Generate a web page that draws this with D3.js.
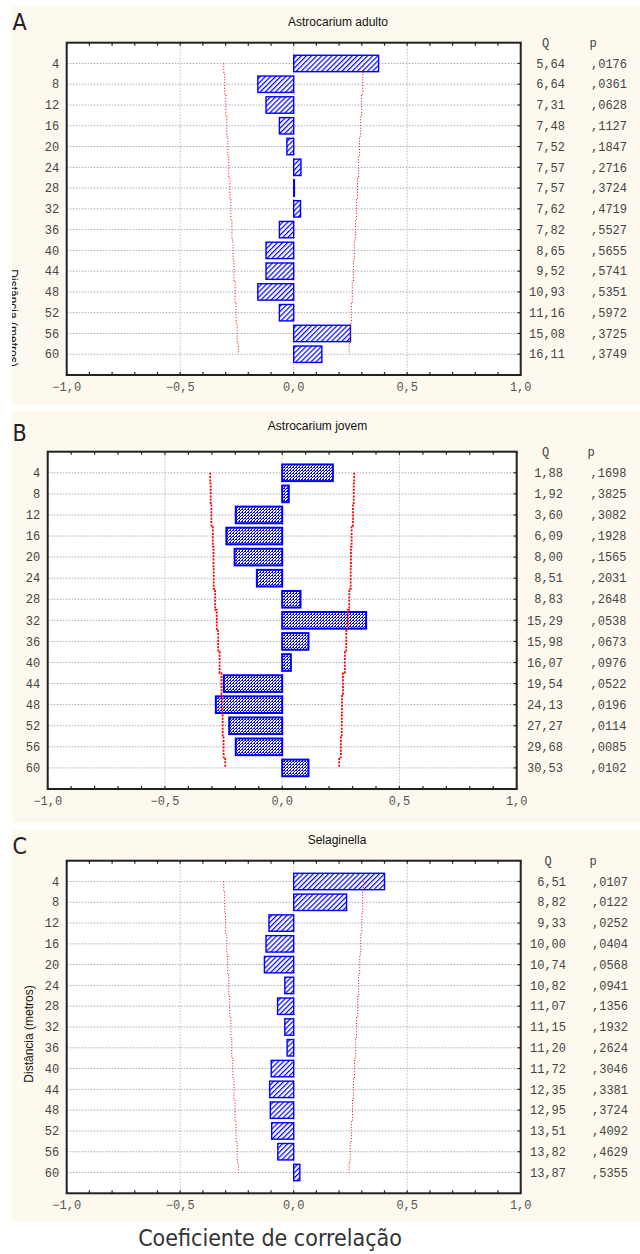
<!DOCTYPE html>
<html><head><meta charset="utf-8">
<script src="https://cdn.jsdelivr.net/npm/d3@7"></script>
<style>
html,body{margin:0;padding:0;background:#fff;}
svg{display:block;}
</style></head>
<body>
<svg id="chart" width="640" height="1254"></svg>
<script>
// ---------- data ----------
const lags = [4,8,12,16,20,24,28,32,36,40,44,48,52,56,60];
const xTicks = [-1.0,-0.5,0.0,0.5,1.0];

const titleA = "Astrocarium adulto";
const rA = [0.374,-0.158,-0.122,-0.063,-0.030,0.032,0.003,0.030,-0.063,-0.122,-0.122,-0.158,-0.063,0.250,0.124];
const limA = [0.308,0.304,0.299,0.295,0.290,0.286,0.281,0.277,0.272,0.267,0.263,0.258,0.254,0.249,0.244];
const qA = [5.64,6.64,7.31,7.48,7.52,7.57,7.57,7.62,7.82,8.65,9.52,10.93,11.16,15.08,16.11];
const pA = [.0176,.0361,.0628,.1127,.1847,.2716,.3724,.4719,.5527,.5655,.5741,.5351,.5972,.3725,.3749];

const titleB = "Astrocarium jovem";
const rB = [0.216,0.028,-0.198,-0.238,-0.203,-0.108,0.078,0.358,0.112,0.037,-0.249,-0.283,-0.226,-0.198,0.112];
const limB = [0.307,0.305,0.302,0.296,0.293,0.292,0.286,0.279,0.273,0.267,0.259,0.255,0.254,0.250,0.243];
const qB = [1.88,1.92,3.60,6.09,8.00,8.51,8.83,15.29,15.98,16.07,19.54,24.13,27.27,29.68,30.53];
const pB = [.1698,.3825,.3082,.1928,.1565,.2031,.2648,.0538,.0673,.0976,.0522,.0196,.0114,.0085,.0102];

const titleC = "Selaginella";
const rC = [0.400,0.233,-0.109,-0.122,-0.129,-0.039,-0.071,-0.039,-0.029,-0.099,-0.106,-0.103,-0.097,-0.070,0.027];
const limC = [0.308,0.304,0.300,0.295,0.291,0.286,0.282,0.277,0.273,0.268,0.263,0.259,0.254,0.249,0.244];
const qC = [6.51,8.82,9.33,10.00,10.74,10.82,11.07,11.15,11.20,11.72,12.35,12.95,13.51,13.82,13.87];
const pC = [.0107,.0122,.0252,.0404,.0568,.0941,.1356,.1932,.2624,.3046,.3381,.3724,.4092,.4629,.5355];

const yLabel = "Distância (metros)";
const xLabel = "Coeficiente de correlação";

// ---------- drawing ----------
const svg = d3.select("#chart");
const defs = svg.append("defs");
const BLUE = "#0000ff";
const MONO = "'Liberation Mono','DejaVu Sans Mono',monospace";
const SANS = "'Liberation Sans',Arial,sans-serif";
const COND = "'Liberation Sans Narrow','DejaVu Sans Condensed','Open Sans',sans-serif";

// hatch pattern (A, C)
const ph = defs.append("pattern").attr("id","hatch").attr("patternUnits","userSpaceOnUse")
  .attr("width",3.6).attr("height",3.6).attr("patternTransform","rotate(45)");
ph.append("rect").attr("width",3.6).attr("height",3.6).attr("fill","#fff");
ph.append("rect").attr("x",0).attr("y",0).attr("width",1.2).attr("height",3.6).attr("fill",BLUE);
// dense dithered pattern (B)
const pd = defs.append("pattern").attr("id","dense").attr("patternUnits","userSpaceOnUse")
  .attr("width",3).attr("height",3);
pd.append("rect").attr("width",3).attr("height",3).attr("fill","#fff");
[[0,0],[1,2],[2,1],[2,2]].forEach(([a,b])=>pd.append("rect").attr("x",a).attr("y",b).attr("width",1).attr("height",1).attr("fill",BLUE));

const fmtQ = v => d3.format(".2f")(v).replace(".",",");
const fmtP = v => d3.format(".4f")(v).replace(/^0\./,",");
const fmtX = v => d3.format(".1f")(v).replace(".",",").replace("-","\u2212");

function panel(cfg){
  const g = svg.append("g");
  g.append("rect").attr("x",cfg.bg[0]).attr("y",cfg.bg[1]).attr("width",cfg.bg[2]).attr("height",cfg.bg[3]).attr("fill","#fdf9ee");
  const p = cfg.plot;
  const x = d3.scaleLinear().domain([-1,1]).range([p.l,p.r]);
  const y = d3.scaleLinear().domain([0,64]).range([p.t,p.b]);
  g.append("rect").attr("x",p.l).attr("y",p.t).attr("width",p.r-p.l).attr("height",p.b-p.t).attr("fill","#fff");

  // grid
  g.selectAll(".hg").data(lags).join("line")
    .attr("x1",p.l).attr("x2",p.r).attr("y1",d=>y(d)).attr("y2",d=>y(d))
    .attr("stroke","#aaa").attr("stroke-width",1).attr("stroke-dasharray","1.5,1.5");
  g.selectAll(".vg").data([-0.5,0,0.5]).join("line")
    .attr("x1",d=>x(d)).attr("x2",d=>x(d)).attr("y1",p.t).attr("y2",p.b)
    .attr("stroke","#bbb").attr("stroke-width",1).attr("stroke-dasharray","1.5,1.5");

  // bars
  const bh = (y(4)-y(0))*0.79;
  g.selectAll(".bar").data(cfg.r).join("rect")
    .attr("x",d=>x(Math.min(0,d))).attr("width",d=>Math.max(0.6,Math.abs(x(d)-x(0))))
    .attr("y",(d,i)=>y(lags[i])-bh/2).attr("height",bh)
    .attr("fill",`url(#${cfg.pattern})`).attr("stroke",BLUE).attr("stroke-width",cfg.barStroke);

  // confidence limits (step-wise dotted red lines)
  [1,-1].forEach(s=>{
    const pts=[];
    cfg.lim.forEach((v,i)=>{
      const yy = y(lags[i]);
      if(i>0){ const ym=(y(lags[i-1])+yy)/2; pts.push([x(s*cfg.lim[i-1]),ym]); pts.push([x(s*v),ym]); }
      pts.push([x(s*v),yy]);
    });
    g.append("path").attr("d",d3.line()(pts)).attr("fill","none")
      .attr("stroke","#ff0000").attr("stroke-width",cfg.limW).attr("stroke-dasharray",cfg.limDash);
  });

  // frame
  g.append("rect").attr("x",p.l).attr("y",p.t).attr("width",p.r-p.l).attr("height",p.b-p.t)
    .attr("fill","none").attr("stroke","#222").attr("stroke-width",2);
  // minor ticks top & bottom
  const minor = d3.range(-10,11).map(d=>d/10);
  g.selectAll(".tt").data(minor).join("line")
    .attr("x1",d=>x(d)).attr("x2",d=>x(d)).attr("y1",p.t).attr("y2",p.t+3).attr("stroke","#222").attr("stroke-width",1.2);
  g.selectAll(".bt").data(minor).join("line")
    .attr("x1",d=>x(d)).attr("x2",d=>x(d)).attr("y1",p.b).attr("y2",p.b-3).attr("stroke","#222").attr("stroke-width",1.2);
  // right ticks
  g.selectAll(".rt").data(lags).join("line")
    .attr("x1",p.r).attr("x2",p.r-3).attr("y1",d=>y(d)).attr("y2",d=>y(d)).attr("stroke","#222").attr("stroke-width",1.2);

  // y tick labels
  g.selectAll(".yl").data(lags).join("text")
    .attr("x",p.l-7.5).attr("y",d=>y(d)).attr("dy","0.35em").attr("text-anchor","end")
    .attr("font-family",MONO).attr("font-size",12).attr("fill","#444").text(d=>d);
  // x tick labels
  g.selectAll(".xl").data(xTicks).join("text")
    .attr("x",d=>x(d)).attr("y",p.b+15.5).attr("text-anchor","middle")
    .attr("font-family",MONO).attr("font-size",12).attr("fill","#555").text(fmtX);

  // Q / p columns
  g.append("text").attr("x",cfg.hq).attr("y",p.t+4.5).attr("text-anchor","middle")
    .attr("font-family",MONO).attr("font-size",12).attr("fill","#444").text("Q");
  g.append("text").attr("x",cfg.hp).attr("y",p.t+4.5).attr("text-anchor","middle")
    .attr("font-family",MONO).attr("font-size",12).attr("fill","#444").text("p");
  g.selectAll(".q").data(cfg.q).join("text")
    .attr("x",cfg.qx).attr("y",(d,i)=>y(lags[i])).attr("dy","0.35em").attr("text-anchor","end")
    .attr("font-family",MONO).attr("font-size",12).attr("fill","#444").text(fmtQ);
  g.selectAll(".p").data(cfg.p).join("text")
    .attr("x",cfg.px).attr("y",(d,i)=>y(lags[i])).attr("dy","0.35em").attr("text-anchor","end")
    .attr("font-family",MONO).attr("font-size",12).attr("fill","#444").text(fmtP);

  // title & letter
  g.append("text").attr("x",cfg.title[0]).attr("y",cfg.title[1]).attr("text-anchor","middle")
    .attr("font-family",SANS).attr("font-size",12).attr("fill","#111").text(cfg.titleText);
  g.append("text").attr("x",cfg.letter[0]).attr("y",cfg.letter[1])
    .attr("font-family",COND).attr("font-stretch","condensed").attr("font-size",23).attr("fill","#222").text(cfg.letterText);
  return {g,x,y};
}

panel({bg:[12,6,628,399], plot:{l:66.7,r:520.7,t:42.7,b:375}, r:rA, lim:limA, q:qA, p:pA,
  pattern:"hatch", barStroke:1.4, limW:1, limDash:"1,1.8",
  qx:565, px:627, hq:545.7, hp:593, title:[338,26], titleText:titleA, letter:[12.5,30], letterText:"A"});
panel({bg:[12,411,628,412], plot:{l:47.7,r:516.7,t:451.7,b:789}, r:rB, lim:limB, q:qB, p:pB,
  pattern:"dense", barStroke:2, limW:1.8, limDash:"2,1.3",
  qx:563, px:626.5, hq:545.7, hp:591, title:[317.5,430], titleText:titleB, letter:[12.5,441], letterText:"B"});
panel({bg:[12,830,628,392], plot:{l:66.7,r:520.7,t:860.7,b:1193.3}, r:rC, lim:limC, q:qC, p:pC,
  pattern:"hatch", barStroke:1.4, limW:1, limDash:"1,1.8",
  qx:566, px:628, hq:548, hp:593, title:[337,844], titleText:titleC, letter:[12.5,854], letterText:"C"});

// y axis labels
defs.append("clipPath").attr("id","clipA").append("rect").attr("x",12).attr("y",6).attr("width",628).attr("height",399);
svg.append("g").attr("clip-path","url(#clipA)")
  .append("text").attr("transform","translate(9,318) rotate(90)").attr("text-anchor","middle")
  .attr("font-family",SANS).attr("font-size",12).attr("fill","#111").text(yLabel);
svg.append("text").attr("transform","translate(33,1034) rotate(-90)").attr("text-anchor","middle")
  .attr("font-family",SANS).attr("font-size",12).attr("fill","#111").text(yLabel);

// x axis title
svg.append("text").attr("x",270).attr("y",1246).attr("text-anchor","middle")
  .attr("font-family",COND).attr("font-stretch","condensed").attr("font-size",23).attr("fill","#333").text(xLabel);
</script>
</body></html>
